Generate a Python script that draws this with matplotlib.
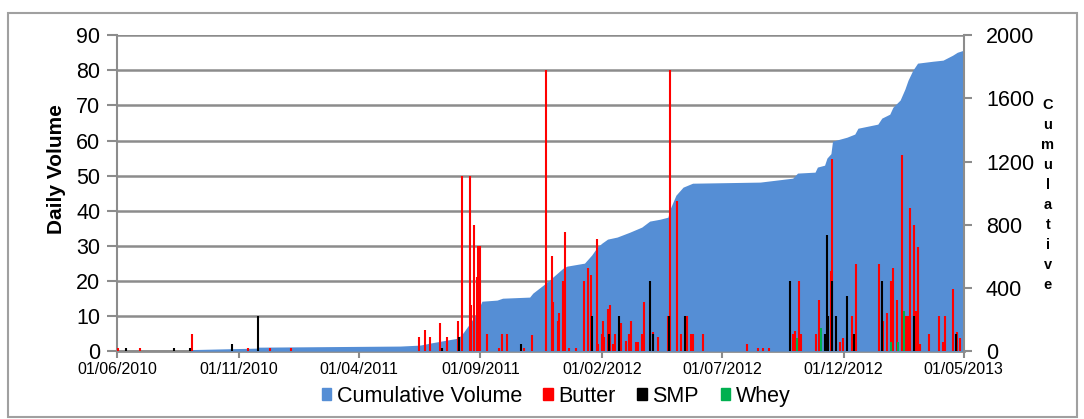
import numpy as np
import pandas as pd
import matplotlib
matplotlib.use('Agg')
import matplotlib.pyplot as plt
from matplotlib.patches import Patch, Rectangle
from matplotlib import font_manager


# --------------------------------------------------------------------------- #
# Data (days counted from 01/06/2010) --------------------------------------- #
# --------------------------------------------------------------------------- #

start = pd.Timestamp('2010-06-01')
end = pd.Timestamp('2013-05-01')

cum_day = [0, 92, 96, 176, 177, 356, 381, 394, 415, 429, 435, 444, 453, 459,
           478, 485, 519, 523, 541, 561, 566, 588, 597, 604, 610, 617, 629,
           645, 660, 670, 683, 693, 695, 703, 712, 724, 809, 850, 856, 878,
           881, 890, 893, 898, 900, 918, 928, 932, 957, 962, 972, 976, 985,
           991, 995, 1001, 1007, 1026, 1039, 1051, 1057, 1065]
cum_vol = [0, 0, 10, 19, 25, 32, 38, 51, 70, 82, 114, 177, 247, 316,
           323, 335, 342, 367, 437, 525, 538, 557, 608, 658, 684, 709, 722,
           753, 785, 823, 835, 848, 892, 987, 1038, 1063, 1070, 1095, 1127,
           1133, 1165, 1177, 1222, 1250, 1329, 1354, 1374, 1411, 1437, 1475,
           1500, 1544, 1589, 1658, 1715, 1778, 1823, 1835, 1842, 1873, 1892,
           1905]

butter_day = [1, 29, 94, 165, 192, 219, 380, 387, 394, 406, 415, 429, 434,
              444, 445, 449, 453, 454, 456, 465, 480, 484, 490, 512, 522, 539,
              547, 549, 555, 556, 561, 563, 568, 577, 588, 592, 596, 604, 605,
              610, 611, 612, 617, 620, 624, 626, 634, 640, 644, 646, 653, 655,
              660, 663, 674, 681, 693, 695, 704, 709, 717, 722, 724, 737, 792,
              806, 812, 820, 850, 853, 858, 860, 879, 883, 898, 899, 910, 913,
              924, 930, 958, 963, 968, 974, 976, 981, 987, 988, 993, 995, 997,
              998, 1002, 1005, 1008, 1010, 1022, 1034, 1039, 1042, 1051, 1057,
              1061]
butter_vol = [1, 1, 5, 1, 1, 1, 4, 6, 4, 8, 4, 8.5, 50,
              50, 13, 36, 21, 30, 30, 5, 1, 5, 5, 1, 4.5, 80,
              27, 14, 8.5, 11, 20, 34, 1, 1, 20, 23.6, 21.6, 32, 2,
              5, 8.5, 4, 12, 13, 2, 5, 8, 3, 5, 8.5, 2.5, 2.5,
              5, 14, 5.5, 4, 10, 80, 42.7, 5, 10, 5, 5, 5, 2,
              1, 1, 1, 5, 5.6, 20, 5, 5, 14.5, 22.7, 54.7, 2.5, 3.7,
              10, 24.8, 24.8, 8.5, 11, 20, 23.6, 14.5, 55.8, 14.5, 10, 10, 40.8,
              10, 36, 11.5, 29.6, 2, 5, 10, 2.5, 10, 17.6, 5.5,
              3.7]

smp_day = [11, 72, 92, 145, 177, 409, 430, 508, 597, 619, 631, 670, 674, 694,
           715, 847, 890, 893, 894, 899, 904, 918, 927, 962, 1002, 1055]
smp_vol = [1, 1, 1, 2, 10, 1, 4, 2, 10, 5, 10, 20, 5, 10,
           10, 20, 5, 33, 10, 20, 10, 15.7, 5, 20, 10, 5]

whey_day = [855, 885, 973, 982, 990]
whey_vol = [3.7, 6.7, 2.6, 2.6, 11.5]

tick_dates = ['2010-06-01', '2010-11-01', '2011-04-01', '2011-09-01',
              '2012-02-01', '2012-07-01', '2012-12-01', '2013-05-01']


def to_dates(days):
    return start + pd.to_timedelta(days, unit='D')


# --------------------------------------------------------------------------- #
# Fonts --------------------------------------------------------------------- #
# --------------------------------------------------------------------------- #

names = {f.name for f in font_manager.fontManager.ttflist}
plt.rcParams['font.family'] = 'Liberation Sans'
if 'Liberation Sans Narrow' in names:
    narrow, tick_fs, leg_fs = 'Liberation Sans Narrow', 13, 18
else:
    narrow, tick_fs, leg_fs = 'Liberation Sans', 11.5, 15.5

grey = '#8c8c8c'
blue = '#558ED5'

# --------------------------------------------------------------------------- #
# Plot ---------------------------------------------------------------------- #
# --------------------------------------------------------------------------- #

fig = plt.figure(figsize=(10.84, 4.19), dpi=100)
ax = fig.add_axes([0.108, 0.162, 0.781, 0.754])

# ---- GRID (bottom layer) ---- #
ax.set_ylim(0, 90)
ax.set_yticks(range(0, 91, 10))
ax.set_xlim(start, end)
ax.grid(axis='y', color=grey, lw=1.8)
ax.set_xticks(pd.to_datetime(tick_dates))
ax.set_xticklabels([pd.Timestamp(d).strftime('%d/%m/%Y') for d in tick_dates],
                   fontfamily=narrow, fontsize=tick_fs)
ax.tick_params(axis='y', direction='out', length=7, width=1.5, color=grey,
               labelsize=15.5, pad=5)
ax.tick_params(axis='x', direction='out', length=5, width=1.5, color=grey,
               pad=3)
for s in ['top', 'right']:
    ax.spines[s].set_visible(False)
ax.spines['left'].set_color(grey)
ax.spines['left'].set_linewidth(1.5)
ax.spines['bottom'].set_color(grey)
ax.spines['bottom'].set_linewidth(2)

# ---- CUMULATIVE AREA ---- #
axc = ax.twinx()
axc.fill_between(to_dates(cum_day), cum_vol, color=blue, lw=0)
axc.set_ylim(0, 2000)
axc.set_yticks(range(0, 2001, 400))
axc.tick_params(axis='y', direction='out', length=6, width=1.5, color=grey,
                labelsize=15.5, pad=10)
for s in ['top', 'left', 'bottom']:
    axc.spines[s].set_visible(False)
axc.spines['right'].set_color(grey)
axc.spines['right'].set_linewidth(1.5)

# ---- DAILY BARS ---- #
axb = ax.twinx()
axb.set_ylim(0, 90)
axb.vlines(to_dates(butter_day), 0, butter_vol, color='#FF0000', lw=1.5)
axb.vlines(to_dates(smp_day), 0, smp_vol, color='#000000', lw=1.5)
axb.vlines(to_dates(whey_day), 0, whey_vol, color='#00B050', lw=1.5)
axb.set_axis_off()

# ---- LABELS ---- #
fig.text(57/1084, 1-169/419, 'Daily Volume', rotation=90, ha='center',
         va='center', fontsize=15, fontweight='bold')
fig.text(1048/1084, 1-195/419, '\n'.join('Cumulative'), ha='center',
         va='center', fontsize=10.5, fontweight='bold', linespacing=1.55)

# ---- LEGEND ---- #
handles = [Patch(color=blue, label='Cumulative Volume'),
           Patch(color='#FF0000', label='Butter'),
           Patch(color='#000000', label='SMP'),
           Patch(color='#00B050', label='Whey')]
fig.legend(handles=handles, loc='center', bbox_to_anchor=(556/1084, 1-396/419),
           ncol=4, frameon=False, prop={'family': narrow, 'size': leg_fs},
           handlelength=0.45, handleheight=0.45, handletextpad=0.25,
           columnspacing=1.0, borderpad=0)

# ---- OUTER BORDER ---- #
fig.patches.append(Rectangle((8/1084, 0.005), (1077-8)/1084, 0.964,
                             transform=fig.transFigure, fill=False,
                             ec='#a0a0a0', lw=1.5))

fig.savefig('out.png', dpi=100)
